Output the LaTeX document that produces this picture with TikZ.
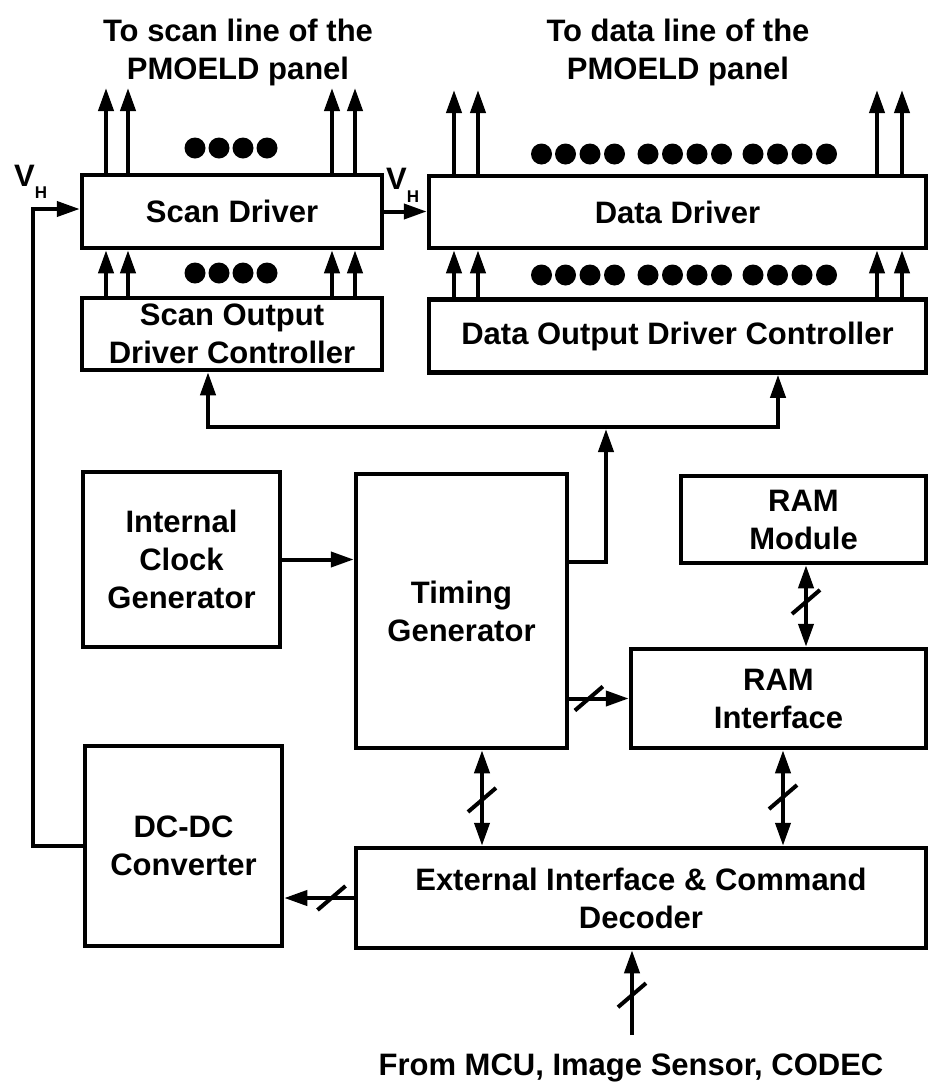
\documentclass[tikz,border=0pt]{standalone}
\usepackage{fontspec}
\setmainfont{Liberation Sans}
\usetikzlibrary{arrows.meta,calc}
\begin{document}
\begin{tikzpicture}[x=1pt,y=-1pt,
  txt/.style={font=\bfseries\fontsize{31}{38}\selectfont, align=center},
  box/.style={txt, draw, line width=4.5pt, rectangle, inner sep=0pt},
  tip/.tip={Triangle[length=23pt,width=15pt]},
  arr/.style={line width=4pt, -tip},
  dbl/.style={line width=4pt, tip-tip},
  busslash/.pic={\draw[line width=4pt] (-14,12) -- (14,-12);},
]
\useasboundingbox (0,0) rectangle (931,1088);

% boxes
\node[box, minimum width=300pt, minimum height=73pt] (scan) at (232,211.5) {Scan Driver};
\node[box, minimum width=300pt, minimum height=72pt] (sctrl) at (232,334) {Scan Output\\Driver Controller};
\node[box, minimum width=497pt, minimum height=72pt] (data) at (677.5,212) {Data Driver};
\node[box, minimum width=497pt, minimum height=73pt] (dctrl) at (677.5,336) {Data Output Driver Controller};
\node[box, minimum width=197pt, minimum height=175pt] (clk) at (181.5,559.5) {Internal\\Clock\\Generator};
\node[box, minimum width=211pt, minimum height=274pt] (tim) at (461.5,611) {Timing\\Generator};
\node[box, minimum width=245pt, minimum height=87pt] (ram) at (803.5,519.5) {RAM\\Module};
\node[box, minimum width=295pt, minimum height=99pt] (ramif) at (778.5,698.5) {RAM\\Interface};
\node[box, minimum width=197pt, minimum height=200pt] (dcdc) at (183.5,846) {DC-DC\\Converter};
\node[box, minimum width=570pt, minimum height=100pt] (ext) at (641,898) {External Interface \& Command\\Decoder};

% labels
\node[txt] (tscan) at (238,52) {To scan line of the\\PMOELD panel};
\node[txt] (tdata) at (678,52) {To data line of the\\PMOELD panel};
\node[txt] (from) at (631,1068) {From MCU, Image Sensor, CODEC};
\node[txt, anchor=base west, inner sep=0pt] (vh1) at (14,186) {V\raisebox{-12pt}{\fontsize{17}{17}\selectfont H}};
\node[txt, anchor=base west, inner sep=0pt] (vh2) at (386,189) {V\raisebox{-13pt}{\fontsize{17}{17}\selectfont H}};

% scan driver outputs and inputs
\foreach \x in {106,128,332,355} {
  \coordinate (t) at (\x,88);
  \draw[arr] (scan.north -| t) -- (t);
  \draw[arr] (sctrl.north -| t) -- (scan.south -| t);
}
% data driver outputs and inputs
\foreach \x in {454,478,877,902} {
  \coordinate (t) at (\x,90);
  \draw[arr] (data.north -| t) -- (t);
  \draw[arr] (dctrl.north -| t) -- (data.south -| t);
}
% dots
\foreach \x in {195,219,243,267} {
  \fill (\x,148) circle[radius=10.5pt];
  \fill (\x,273) circle[radius=10.5pt];
}
\foreach \x in {541.5,565.5,590,614.5,648,672.5,697,721.5,753,777.5,802,826.5} {
  \fill (\x,154) circle[radius=10.5pt];
  \fill (\x,275) circle[radius=10.5pt];
}

% V_H feedback
\coordinate (fb) at (33,209);
\draw[arr] (dcdc.west) -| (fb) -- (scan.west |- fb);
\draw[arr] (scan.east) -- (scan.east -| data.west);

% control bus
\coordinate (bl) at (208,427);
\coordinate (br) at (778,427);
\coordinate (bm) at (606,429);
\coordinate (tg) at (606,562);
\draw[dbl] (sctrl.south -| bl) -- (bl) -- (br) -- (dctrl.south -| br);
\draw[arr] (tim.east |- tg) -- (tg) -- (bm);

% clock to timing
\draw[arr] (clk.east) -- (clk.east -| tim.west);

% RAM module <-> RAM interface
\coordinate (rx) at (806,0);
\draw[dbl] (ram.south -| rx) -- coordinate[pos=0.45] (s1) (ramif.north -| rx);
\pic at (s1) {busslash};

% timing -> RAM interface
\draw[arr] (tim.east |- ramif.west) -- coordinate[pos=0.33] (s2) (ramif.west);
\pic at (s2) {busslash};

% timing <-> external
\coordinate (tx) at (482,0);
\draw[dbl] (tim.south -| tx) -- coordinate[pos=0.52] (s3) (ext.north -| tx);
\pic at (s3) {busslash};

% RAM interface <-> external
\coordinate (ux) at (783,0);
\draw[dbl] (ramif.south -| ux) -- coordinate[pos=0.49] (s4) (ext.north -| ux);
\pic at (s4) {busslash};

% external -> DC-DC
\draw[arr] (ext.west) -- coordinate[pos=0.32] (s5) (ext.west -| dcdc.east);
\pic at (s5) {busslash};

% input
\coordinate (inp) at (632,1035);
\draw[arr] (inp) -- coordinate[pos=0.47] (s6) (ext.south -| inp);
\pic at (s6) {busslash};
\end{tikzpicture}
\end{document}
